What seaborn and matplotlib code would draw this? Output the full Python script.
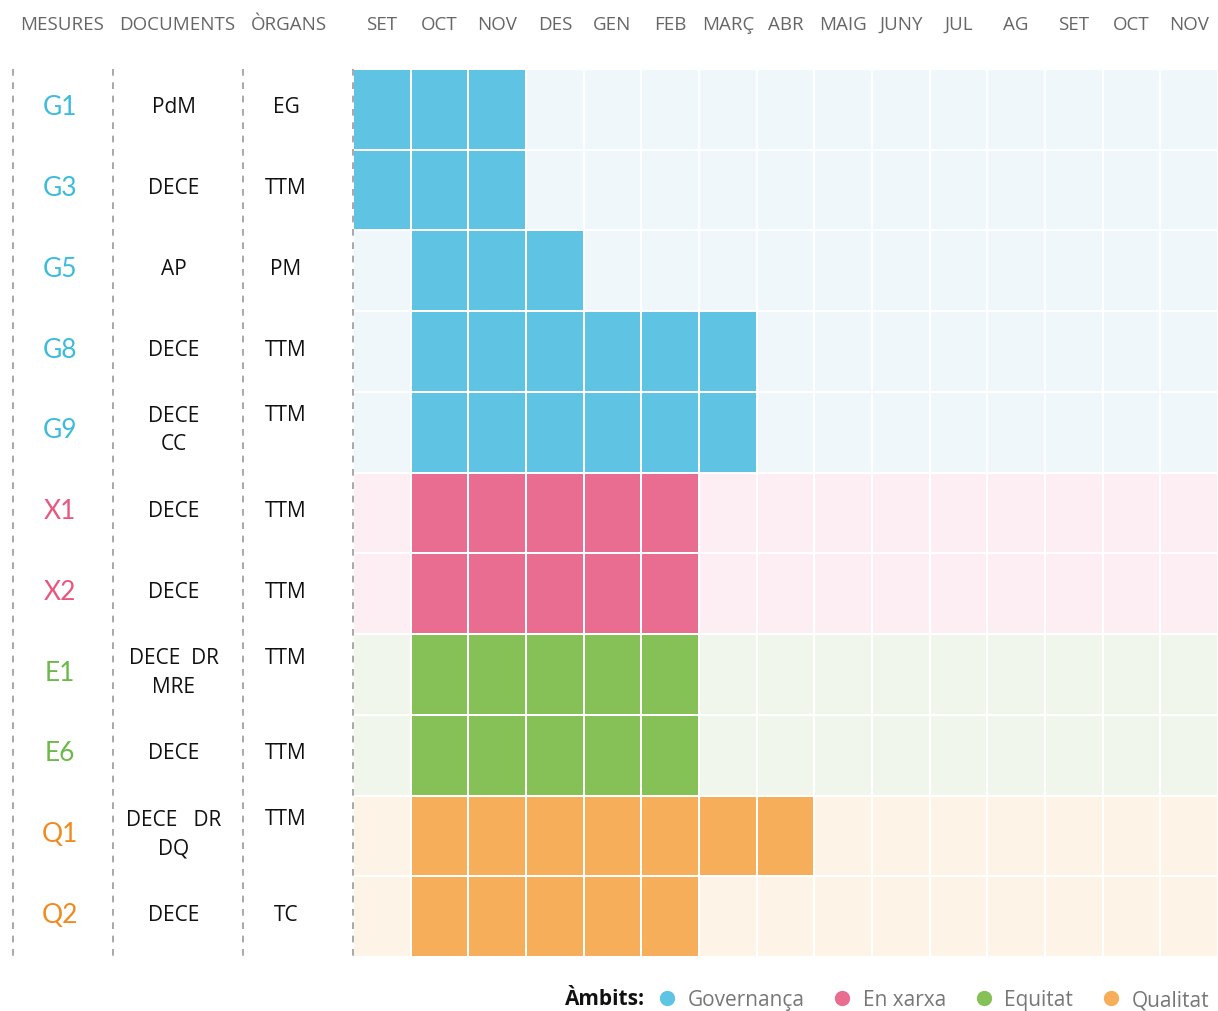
import numpy as np
import matplotlib
matplotlib.use("Agg")
import matplotlib.pyplot as plt
from matplotlib.colors import ListedColormap
from matplotlib.lines import Line2D
from matplotlib.transforms import blended_transform_factory
import seaborn as sns

# ── Dades ──
MONTHS = ["SET", "OCT", "NOV", "DES", "GEN", "FEB", "MARÇ", "ABR",
          "MAIG", "JUNY", "JUL", "AG", "SET", "OCT", "NOV"]
MESURES = ["G1", "G3", "G5", "G8", "G9", "X1", "X2", "E1", "E6", "Q1", "Q2"]
DOCUMENTS = ["PdM", "DECE", "AP", "DECE", "DECE\nCC", "DECE", "DECE",
             "DECE  DR\nMRE", "DECE", "DECE   DR\nDQ", "DECE"]
ORGANS = ["EG", "TTM", "PM", "TTM", "TTM", "TTM", "TTM", "TTM", "TTM", "TTM", "TC"]
AMBIT = [0, 0, 0, 0, 0, 1, 1, 2, 2, 3, 3]
START = [0, 0, 1, 1, 1, 1, 1, 1, 1, 1, 1]   # primer mes actiu
END = [2, 2, 3, 6, 6, 5, 5, 5, 5, 7, 5]     # darrer mes actiu
AMBITS = ["Governança", "En xarxa", "Equitat", "Qualitat"]

# ── Colors ──
STRONG = ["#5FC3E4", "#E86D90", "#86C157", "#F7AE5A"]
LIGHT = ["#EFF7FB", "#FCEEF3", "#F1F6EC", "#FEF3E7"]
TEXT_COL = ["#3BBBDD", "#E8577E", "#6DB84A", "#F08A1C"]

# matriu de codis: ambit*2 + actiu
codes = np.zeros((len(MESURES), len(MONTHS)), dtype=int)
for i, a in enumerate(AMBIT):
    for j in range(len(MONTHS)):
        active = START[i] <= j <= END[i]
        codes[i, j] = a * 2 + int(active)

cmap = ListedColormap([c for pair in zip(LIGHT, STRONG) for c in pair])

sns.set_style("white")
plt.rcParams["font.family"] = ["Open Sans", "DejaVu Sans"]

fig = plt.figure(figsize=(12.18, 10.12), dpi=100)
ax = fig.add_axes([353 / 1218, 1 - 958 / 1012, 865 / 1218, 888 / 1012])

sns.heatmap(codes, ax=ax, cmap=cmap, vmin=-0.5, vmax=7.5, cbar=False,
            linewidths=1.2, linecolor="white", xticklabels=False,
            yticklabels=False)
ax.set_xlabel("")
ax.set_ylabel("")

# ── Capçaleres ──
HEAD_Y = 1 - 25 / 1012
for x, lab in [(62, "MESURES"), (177, "DOCUMENTS"), (289, "ÒRGANS")]:
    fig.text(x / 1218, HEAD_Y, lab, ha="center", va="center",
             fontsize=13.5, color="#666666")
tr_x = blended_transform_factory(ax.transData, fig.transFigure)
for j, m in enumerate(MONTHS):
    ax.text(j + 0.5, HEAD_Y, m, transform=tr_x, ha="center", va="center",
            fontsize=13.5, color="#666666")

# ── Columnes de text ──
tr_y = blended_transform_factory(fig.transFigure, ax.transData)
for i in range(len(MESURES)):
    yc = i + 0.47
    ax.text(60 / 1218, yc, MESURES[i], transform=tr_y, ha="center",
            va="center", fontsize=19, color=TEXT_COL[AMBIT[i]],
            family=["Lato", "DejaVu Sans"])
    doc = DOCUMENTS[i]
    ax.text(174 / 1218, yc, doc, transform=tr_y, ha="center", va="center",
            fontsize=15, color="#111111", linespacing=1.45)
    # l'òrgan s'alinea amb la primera línia del document
    yo = yc - 0.185 if "\n" in doc else yc
    ax.text(286 / 1218, yo, ORGANS[i], transform=tr_y, ha="center",
            va="center", fontsize=15, color="#111111")

# ── Línies discontínues ──
for x in [13, 113, 243, 353]:
    fig.add_artist(Line2D([x / 1218, x / 1218], [1 - 70 / 1012, 1 - 958 / 1012],
                          transform=fig.transFigure, color="#999999",
                          lw=1.2, ls=(0, (4, 4))))

# ── Llegenda ──
fig.text(565 / 1218, 1 - 1000 / 1012, "Àmbits:", ha="left", va="center",
         fontsize=15, fontweight="bold", color="#111111")
handles = [Line2D([], [], marker="o", ls="", markersize=10,
                  markerfacecolor=c, markeredgecolor=c) for c in STRONG]
leg = fig.legend(handles, AMBITS, loc="center right",
                 bbox_to_anchor=(1228 / 1218, 1 - 1001 / 1012), ncol=4,
                 frameon=False, fontsize=15, handletextpad=0.5,
                 columnspacing=1.3, handlelength=1.0)
for t in leg.get_texts():
    t.set_color("#777777")

fig.savefig("out.png", dpi=100, facecolor="white")
